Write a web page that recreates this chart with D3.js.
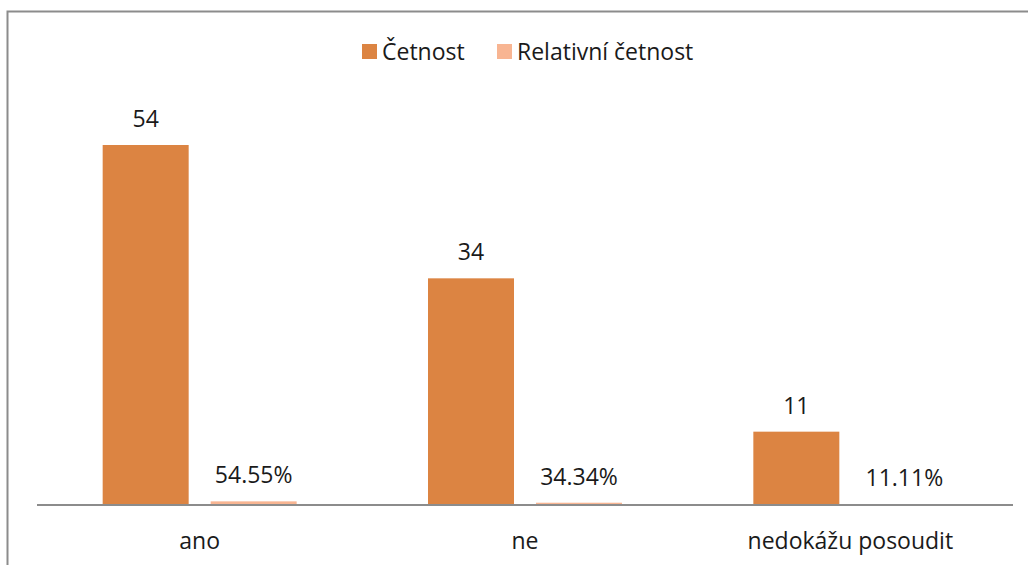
<!DOCTYPE html>
<html>
<head>
<meta charset="utf-8">
<script src="https://cdn.jsdelivr.net/npm/d3@7/dist/d3.min.js"></script>
<style>
  html, body { margin: 0; padding: 0; background: #fff; }
  svg { display: block; }
  text { font-family: "Open Sans", "Noto Sans", sans-serif; fill: #1a1a1a; }
</style>
</head>
<body>
<svg id="chart" width="1028" height="565"></svg>
<script>
// Answers and their counts / relative frequencies
const categories = ["ano", "ne", "nedokážu posoudit"];
const seriesNames = ["Četnost", "Relativní četnost"];
const counts = [54, 34, 11];
const relative = [0.5455, 0.3434, 0.1111];
const relativeLabels = ["54.55%", "34.34%", "11.11%"];
const colors = ["#DC8442", "#F8B592"];

const svg = d3.select("#chart");
const W = 1028, H = 565;
const FS = 23;

// outer frame (extends past the right and bottom edges)
svg.append("rect")
  .attr("x", 7.5).attr("y", 11.5)
  .attr("width", W + 10).attr("height", H + 10)
  .attr("fill", "none").attr("stroke", "#8c8c8c").attr("stroke-width", 2);

const plot = { left: 37, right: 1013, top: 105, bottom: 505 };

const x0 = d3.scaleBand()
  .domain(categories)
  .range([plot.left, plot.right])
  .paddingInner(0.4037)
  .paddingOuter(0.4037 / 2);

const x1 = d3.scaleBand()
  .domain(seriesNames)
  .range([0, x0.bandwidth()])
  .paddingInner(0.2037);

const y = d3.scaleLinear().domain([0, 60]).range([plot.bottom, plot.top]);

const rows = categories.map((c, i) => ({
  cat: c,
  values: [
    { s: seriesNames[0], v: counts[i], label: String(counts[i]) },
    { s: seriesNames[1], v: relative[i], label: relativeLabels[i] }
  ]
}));

const groups = svg.append("g").selectAll("g")
  .data(rows).join("g")
  .attr("transform", d => `translate(${x0(d.cat)},0)`);

groups.selectAll("rect")
  .data(d => d.values).join("rect")
  .attr("x", d => x1(d.s))
  .attr("width", x1.bandwidth())
  .attr("y", d => y(d.v))
  .attr("height", d => y(0) - y(d.v))
  .attr("fill", (d, i) => colors[i]);

groups.selectAll("text.val")
  .data(d => d.values).join("text")
  .attr("class", "val")
  .attr("x", d => x1(d.s) + x1.bandwidth() / 2)
  .attr("y", d => y(d.v) - 18)
  .attr("text-anchor", "middle")
  .attr("font-size", FS)
  .text(d => d.label);

// category axis
const xAxis = svg.append("g")
  .attr("transform", `translate(0,${plot.bottom})`)
  .call(d3.axisBottom(x0).tickSize(0).tickPadding(0).tickSizeOuter(0));
xAxis.select(".domain").attr("stroke", "#8c8c8c").attr("stroke-width", 2)
  .attr("d", `M${plot.left},0H${plot.right}`);
xAxis.selectAll(".tick text")
  .attr("y", 44).attr("dy", null)
  .attr("font-size", FS)
  .attr("font-family", "\"Open Sans\", \"Noto Sans\", sans-serif")
  .attr("fill", "#1a1a1a");

// legend
const legendX = [362, 497];
const legend = svg.append("g").selectAll("g")
  .data(seriesNames).join("g")
  .attr("transform", (d, i) => `translate(${legendX[i]},44)`);
legend.append("rect").attr("width", 15).attr("height", 15)
  .attr("fill", (d, i) => colors[i]);
legend.append("text")
  .attr("x", 20).attr("y", 15.5)
  .attr("font-size", FS)
  .text(d => d);
</script>
</body>
</html>
